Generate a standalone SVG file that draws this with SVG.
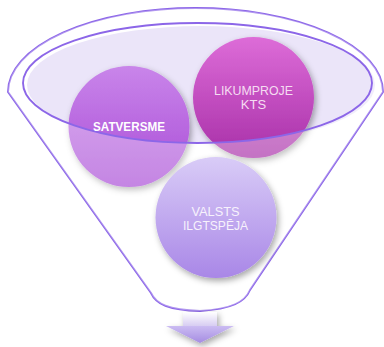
<svg xmlns="http://www.w3.org/2000/svg" width="384" height="347" viewBox="0 0 384 347">
  <defs>
    <style>
      .rim { fill: none; stroke: #8c66e8; stroke-width: 1.9; }
      .lbl { font-family: "Liberation Sans", Arial, sans-serif; text-anchor: middle; }
    </style>
    <linearGradient id="gSat" x1="0" y1="0" x2="0" y2="1">
      <stop offset="0" stop-color="#c985ea"/>
      <stop offset="1" stop-color="#a94cd6"/>
    </linearGradient>
    <linearGradient id="gLik" x1="0" y1="0" x2="0" y2="1">
      <stop offset="0" stop-color="#dd6cd8"/>
      <stop offset="1" stop-color="#a830a8"/>
    </linearGradient>
    <linearGradient id="gVal" x1="0" y1="0" x2="0" y2="1">
      <stop offset="0" stop-color="#d9ccf7"/>
      <stop offset="1" stop-color="#a987e7"/>
    </linearGradient>
    <linearGradient id="gStem" x1="0" y1="0" x2="0" y2="1">
      <stop offset="0" stop-color="#ffffff"/>
      <stop offset="1" stop-color="#d4c9f1"/>
    </linearGradient>
    <linearGradient id="gHead" x1="0" y1="0" x2="0" y2="1">
      <stop offset="0" stop-color="#cbbcf2"/>
      <stop offset="1" stop-color="#a58ce2"/>
    </linearGradient>
    <filter id="shadow" x="-20%" y="-20%" width="150%" height="150%">
      <feDropShadow dx="2" dy="3" stdDeviation="3" flood-color="#000000" flood-opacity="0.35"/>
    </filter>
    <clipPath id="funnelClip">
      <path d="M8,92 A187.5,84 0 0 1 383,92 L250,290 C245,302 232,309 200,311 C168,310 156,304 151,293 Z"/>
    </clipPath>
  </defs>

  <g id="funnel">
    <path class="rim" d="M8,92 A187.5,84 0 0 1 383,92 L250,290 C245,302 232,309 200,311 C168,310 156,304 151,293 Z" fill="#ffffff"/>
    <ellipse cx="201" cy="85" rx="174" ry="59" fill="#ebe5f9"/>
  </g>

  <g id="node-satversme">
    <circle cx="129" cy="126.5" r="60.5" fill="url(#gSat)" filter="url(#shadow)"/>
  </g>
  <g id="node-likumprojekts">
    <circle cx="253.5" cy="97.5" r="60.5" fill="url(#gLik)" filter="url(#shadow)"/>
  </g>

  <path clip-path="url(#funnelClip)" fill="#ffffff" fill-opacity="0.32" fill-rule="evenodd"
        d="M0,0 H384 V347 H0 Z M23,83 A174.5,60 0 1 0 372,83 A174.5,60 0 1 0 23,83 Z"/>

  <ellipse class="rim" cx="197.5" cy="83" rx="174.5" ry="60"/>

  <g id="label-satversme">
    <text class="lbl" x="129" y="131" font-size="13" font-weight="bold" fill="#ffffff" textLength="72" lengthAdjust="spacingAndGlyphs">SATVERSME</text>
  </g>
  <g id="label-likumprojekts">
    <text class="lbl" x="253.5" y="95" font-size="13" fill="#f5dcf2" textLength="79" lengthAdjust="spacingAndGlyphs">LIKUMPROJE</text>
    <text class="lbl" x="253.5" y="109" font-size="13" fill="#f5dcf2">KTS</text>
  </g>

  <g id="node-valsts">
    <circle cx="216" cy="217.5" r="60.5" fill="url(#gVal)" filter="url(#shadow)"/>
    <text class="lbl" x="215.5" y="216" font-size="12.8" fill="#f7f2fc">VALSTS</text>
    <text class="lbl" x="215.5" y="230" font-size="12.8" fill="#f7f2fc" textLength="65" lengthAdjust="spacingAndGlyphs">ILGTSPĒJA</text>
  </g>

  <g id="connectors">
    <g filter="url(#shadow)">
      <rect x="183" y="312" width="34" height="15" fill="url(#gStem)"/>
      <polygon points="166,326 234,326 200,343" fill="url(#gHead)"/>
    </g>
  </g>
</svg>
